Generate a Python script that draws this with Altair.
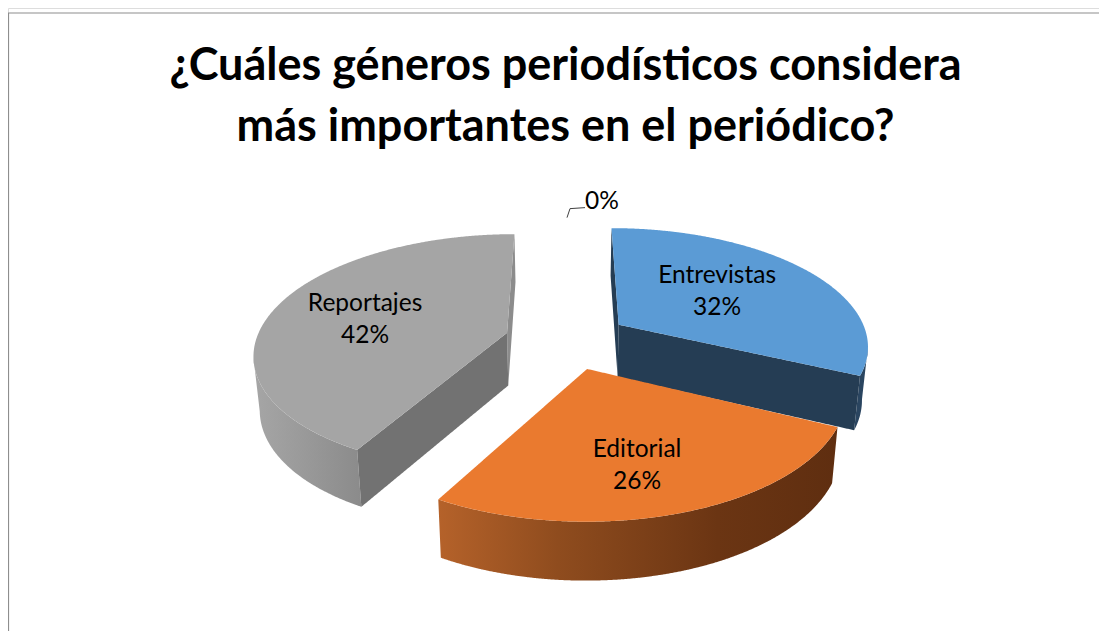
import altair as alt
import numpy as np
import pandas as pd

# Chart values
genres = ["Entrevistas", "Editorial", "Reportajes", ""]
percents = [32, 26, 42, 0]
top_colors = ["#5b9bd5", "#ea7a2f", "#a5a5a5"]
title_lines = ["¿Cuáles géneros periodísticos considera", "más importantes en el periódico?"]

# Perspective pie model (explode, tilt, perspective, centre, wall height)
CX, CY, R, T, P, EXPLODE, WALL = 567, 340, 250, 117, 0.164, 0.25, 53
RIM_SHIFT = [0, -5, -1]
W, H = 1091, 623
FONT = "Lato"


def project(u, v):
    s = 1 / (1 - P * v)
    return CX + R * u * s, CY + T * v * s


def lower(x, y, v):
    return x + (CX - x) * 0.02, y + WALL * (1 + 0.09 * v)


def spans(px, py, name, order):
    """Turn a closed outline into an x / y / y2 band for an area mark."""
    px, py = np.asarray(px, float), np.asarray(py, float)
    xs = np.arange(np.floor(px.min()), np.ceil(px.max()) + 0.5, 1.0)
    xs = np.unique(np.concatenate([xs, px]))
    rows = []
    qx, qy = np.r_[px[1:], px[0]], np.r_[py[1:], py[0]]
    for x in xs:
        hit = []
        for a, b, c, d in zip(px, py, qx, qy):
            if min(a, c) <= x <= max(a, c):
                if a == c:
                    hit += [b, d]
                else:
                    hit.append(b + (d - b) * (x - a) / (c - a))
        if hit:
            rows.append((x, min(hit), max(hit)))
    df = pd.DataFrame(rows, columns=["x", "y", "y2"])
    df["part"] = name
    df["order"] = order
    return df


x_scale = alt.Scale(domain=[8, 8 + W], range=[0, W])
y_scale = alt.Scale(domain=[8, 8 + H], range=[0, H])
X = alt.X("x:Q", scale=x_scale, axis=None)
Y = alt.Y("y:Q", scale=y_scale, axis=None)


def band(df, fill):
    return alt.Chart(df).mark_area(color=fill, interpolate="linear", line=False).encode(
        x=X, y=Y, y2=alt.Y2("y2:Q")
    )


def gradient(stops):
    return alt.Gradient(
        gradient="linear", x1=0, x2=1, y1=0, y2=0,
        stops=[alt.GradientStop(color=c, offset=o) for o, c in stops],
    )


edges = np.cumsum([0] + percents[:3]) * 3.6
slices = {}
for i, g in enumerate(genres[:3]):
    a0, a1 = edges[i], edges[i + 1]
    mid = np.radians((a0 + a1) / 2)
    u0, v0 = EXPLODE * np.sin(mid), -EXPLODE * np.cos(mid)
    ang = np.radians(np.linspace(a0, a1, 121))
    u, v = u0 + np.sin(ang), v0 - np.cos(ang)
    ax, ay = project(u, v)
    ax = ax + RIM_SHIFT[i]
    bx, by = lower(ax, ay, v)
    cx, cy = project(u0, v0)
    cbx, cby = lower(cx, cy, v0)
    slices[g] = dict(u0=u0, v0=v0, mid=mid, ax=ax, ay=ay, bx=bx, by=by, cx=cx, cy=cy, cbx=cbx, cby=cby, v=v)


def top_face(g):
    s = slices[g]
    return spans(np.r_[s["cx"], s["ax"]], np.r_[s["cy"], s["ay"]], g, 1)


def cut_face(g, idx):
    s = slices[g]
    return spans(
        [s["cx"], s["ax"][idx], s["bx"][idx], s["cbx"]],
        [s["cy"], s["ay"][idx], s["by"][idx], s["cby"]],
        g, 0,
    )


def wall(g, i0, i1):
    s = slices[g]
    return spans(
        np.r_[s["ax"][i0:i1], s["bx"][i0:i1][::-1]],
        np.r_[s["ay"][i0:i1], s["by"][i0:i1][::-1]],
        g, 0,
    )


gray, blue, orange = genres[2], genres[0], genres[1]
gl = int(np.argmin(slices[gray]["ax"]))
br = int(np.argmax(slices[blue]["ax"]))

layers = [
    # Reportajes
    band(cut_face(gray, -1), "#8c8c8c"),
    band(wall(gray, 0, gl + 1), gradient([(0, "#a6a6a6"), (0.45, "#9a9a9a"), (1, "#8b8b8b")])),
    band(cut_face(gray, 0), "#727272"),
    band(top_face(gray), top_colors[2]),
    # Entrevistas
    band(cut_face(blue, 0), "#253d54"),
    band(wall(blue, br, None), "#2a4560"),
    band(cut_face(blue, -1), "#253d54"),
    band(top_face(blue), top_colors[0]),
    # Editorial
    band(wall(orange, 0, None), gradient([(0, "#b5622a"), (0.3, "#8f4c1e"), (0.7, "#6b3513"), (1, "#5f2e10")])),
    band(top_face(orange), top_colors[1]),
]

# Frame of the chart
frame_top = pd.DataFrame({"x": [8.0], "x2": [8.0 + W], "y": [13.0]})
frame_left = pd.DataFrame({"x": [8.5], "y": [13.0], "y2": [8.0 + H]})
layers.append(alt.Chart(frame_top).mark_rule(color="#8e8e8e", strokeWidth=1.2).encode(x=X, x2="x2:Q", y=Y))
layers.append(alt.Chart(frame_left).mark_rule(color="#8e8e8e", strokeWidth=1.2).encode(x=X, y=Y, y2="y2:Q"))

# Data labels
label_r = [0.53, 0.68, 0.6]
label_shift = [(-4, -18), (-14, -11), (-3, -12)]
lab_rows = []
for i, g in enumerate(genres[:3]):
    s = slices[g]
    u = s["u0"] + label_r[i] * np.sin(s["mid"])
    v = s["v0"] - label_r[i] * np.cos(s["mid"])
    x, y = project(u, v)
    lab_rows.append({"x": x + label_shift[i][0], "y": y + label_shift[i][1], "label": f"{g}\n{percents[i]}%"})
labels = alt.Chart(pd.DataFrame(lab_rows)).mark_text(
    font=FONT, fontSize=24.5, color="#000000", lineBreak="\n", lineHeight=32, align="center", baseline="middle"
).encode(x=X, y=Y, text="label:N")
layers.append(labels)

# Leader and label of the 0% slice, starting at its rim
lx, ly = project(0.0, -EXPLODE - 1)
leader = pd.DataFrame({"x": [lx, lx + 3, lx + 18], "y": [ly - 1, ly - 10, ly - 11], "o": [0, 1, 2]})
layers.append(
    alt.Chart(leader).mark_line(color="#404040", strokeWidth=1).encode(x=X, y=Y, order="o:O")
)
zero = pd.DataFrame({"x": [lx + 35], "y": [ly - 17], "label": [f"{percents[3]}%"]})
layers.append(
    alt.Chart(zero).mark_text(font=FONT, fontSize=24.5, color="#000000").encode(x=X, y=Y, text="label:N")
)

chart = (
    alt.layer(*layers)
    .properties(
        width=W,
        height=H,
        padding=0,
        autosize=alt.AutoSizeParams(type="none"),
        title=alt.TitleParams(
            text=title_lines,
            font=FONT,
            fontSize=45,
            fontWeight="bold",
            color="#000000",
            anchor="middle",
            baseline="top",
            lineHeight=61,
            dx=12,
            dy=145.5,
        ),
    )
    .configure_view(stroke=None)
    .configure(background="#ffffff")
)

chart.save("out.html", embed_options={"renderer": "svg", "actions": False})
